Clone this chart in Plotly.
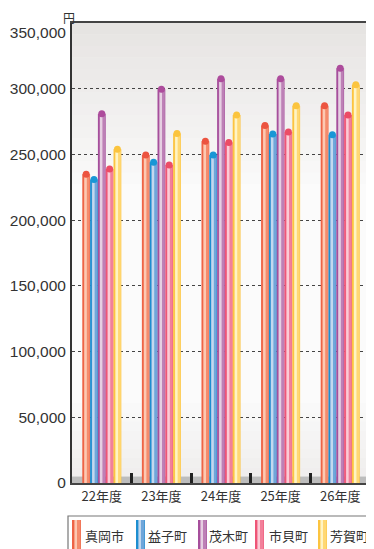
import plotly.graph_objects as go

categories = ["22年度", "23年度", "24年度", "25年度", "26年度"]
series_names = ["真岡市", "益子町", "茂木町", "市貝町", "芳賀町"]
moka = [235000, 249500, 260000, 272000, 287000]
mashiko = [231000, 244000, 249500, 265500, 265000]
motegi = [281000, 299500, 307500, 307500, 315500]
ichikai = [239000, 242000, 259000, 267000, 280000]
haga = [254000, 266000, 280000, 287000, 303000]
y_ticks = [0, 50000, 100000, 150000, 200000, 250000, 300000, 350000]

series_values = [moka, mashiko, motegi, ichikai, haga]

# (edge, mid, light, cap)
palette = [
    ("#ee6446", "#f58b6c", "#fdc9b2", "#ec5440"),
    ("#1d8ed0", "#6fa6da", "#c3d8ef", "#1897d6"),
    ("#a64f9c", "#bd80b6", "#e6cfe2", "#ad4c9c"),
    ("#ee5577", "#f2809a", "#fccad6", "#ec4c66"),
    ("#fcc440", "#ffd874", "#fff4c4", "#fbc43e"),
]

# page body has an 8px default margin, so the figure is drawn 8px in
OFF = 8
W_PX, H_PX = 374 - OFF, 549 - OFF
M_L, M_R, M_T, M_B = 72 - OFF, 4, 23 - OFF, 66
PW = W_PX - M_L - M_R
PH = H_PX - M_T - M_B


def px_x(px):
    # px given in window pixels
    return (px - OFF - M_L) / PW


def px_y(py):
    return (H_PX - M_B - (py - OFF)) / PH


W = 0.131
FONT = "Noto Sans CJK JP, Liberation Sans, sans-serif"
xs = list(range(len(categories)))

# top label sits a little below its tick in the reference
y_ticktext = [f"{v:,}" for v in y_ticks]
y_ticktext[-1] = "<br>" + y_ticktext[-1]

fig = go.Figure()

for i, (name, vals) in enumerate(zip(series_names, series_values)):
    edge, mid, light, cap = palette[i]
    centers = [x + (i - 2) * W for x in xs]
    fig.add_trace(go.Bar(x=centers, y=vals, width=W, name=name,
                         marker=dict(color=edge, line=dict(width=0)),
                         hoverinfo="skip", showlegend=False))
    fig.add_trace(go.Bar(x=[c + 0.08 * W for c in centers], y=vals, width=W * 0.72,
                         marker=dict(color=mid, line=dict(width=0)),
                         hoverinfo="skip", showlegend=False))
    fig.add_trace(go.Bar(x=[c - 0.08 * W for c in centers], y=vals, width=W * 0.32,
                         marker=dict(color=light, line=dict(width=0)),
                         hoverinfo="skip", showlegend=False))
    fig.add_trace(go.Scatter(x=centers, y=vals, mode="markers",
                             marker=dict(symbol="circle", size=7, color=cap,
                                         line=dict(width=0)),
                             hoverinfo="skip", showlegend=False))

# background gradient (top greyish fading to white, slight grey near floor)
shapes = []
n = 14
for k in range(n):
    y0 = 1 - (k + 1) * 0.025
    y1 = 1 - k * 0.025
    shapes.append(dict(type="rect", xref="paper", yref="paper", x0=0, x1=1,
                       y0=y0, y1=y1, fillcolor="#d6d1ce",
                       opacity=0.55 * (1 - k / n), line=dict(width=0), layer="below"))
for k in range(8):
    y0 = 0.014 + k * 0.02
    shapes.append(dict(type="rect", xref="paper", yref="paper", x0=0, x1=1,
                       y0=y0, y1=y0 + 0.02, fillcolor="#dcd8d6",
                       opacity=0.35 * (1 - k / 8), line=dict(width=0), layer="below"))
shapes.append(dict(type="rect", xref="paper", yref="paper", x0=0, x1=1,
                   y0=0, y1=0.014, fillcolor="#bdbdbd", line=dict(width=0), layer="below"))

# manual legend (box, striped swatches, real-text labels)
annotations = []
shapes.append(dict(type="rect", xref="paper", yref="paper",
                   x0=px_x(68), x1=px_x(390), y0=px_y(516), y1=px_y(560),
                   fillcolor="white", line=dict(color="#777777", width=1.2), layer="above"))
swatch_x = [72, 136, 198, 255, 318]
text_x = [83, 146, 207, 267, 328]
for i, name in enumerate(series_names):
    edge, mid, light, cap = palette[i]
    sx = swatch_x[i]
    for (a, b, col) in [(0, 9, edge), (2.5, 8.5, mid), (2.5, 5, light)]:
        shapes.append(dict(type="rect", xref="paper", yref="paper",
                           x0=px_x(sx + a), x1=px_x(sx + b),
                           y0=px_y(520), y1=px_y(560),
                           fillcolor=col, line=dict(width=0), layer="above"))
    annotations.append(dict(text=name, xref="paper", yref="paper",
                            x=px_x(text_x[i]), y=px_y(535),
                            xanchor="left", yanchor="middle", showarrow=False,
                            font=dict(size=13, family=FONT, color="#333333")))

annotations.append(dict(text="円", xref="paper", yref="paper", x=px_x(69), y=px_y(8),
                        xanchor="center", yanchor="top", showarrow=False, borderpad=0,
                        font=dict(size=12, family=FONT, color="#333333")))

fig.update_layout(
    width=W_PX, height=H_PX,
    margin=dict(l=M_L, r=M_R, t=M_T, b=M_B, autoexpand=False),
    paper_bgcolor="white",
    plot_bgcolor="#fbfbfb",
    barmode="overlay",
    font=dict(family=FONT, color="#333333"),
    shapes=shapes,
    annotations=annotations,
    showlegend=False,
)

fig.update_xaxes(
    range=[-0.5, 4.5], tickmode="array", tickvals=xs, ticktext=categories,
    ticks="", ticklabelstandoff=0, automargin=False,
    tickfont=dict(size=13, family=FONT, color="#333333"),
    showgrid=False, zeroline=False,
    showline=True, linecolor="#444444", linewidth=2, mirror=True,
    minor=dict(tickmode="array", tickvals=[0.5, 1.5, 2.5, 3.5], ticks="inside",
               ticklen=10, tickwidth=2.5, tickcolor="#222222", showgrid=False),
)
fig.update_yaxes(
    range=[0, 350000], tickmode="array", tickvals=y_ticks, ticktext=y_ticktext,
    tickfont=dict(size=15.5, family="Liberation Sans, Arial, sans-serif", color="#333333"),
    ticks="", ticklabelstandoff=1, automargin=False,
    showgrid=True, gridcolor="#444444", gridwidth=1, griddash="3px,3px",
    zeroline=False,
    showline=True, linecolor="#333333", linewidth=2, mirror=True,
)

fig.write_html("out.html")
